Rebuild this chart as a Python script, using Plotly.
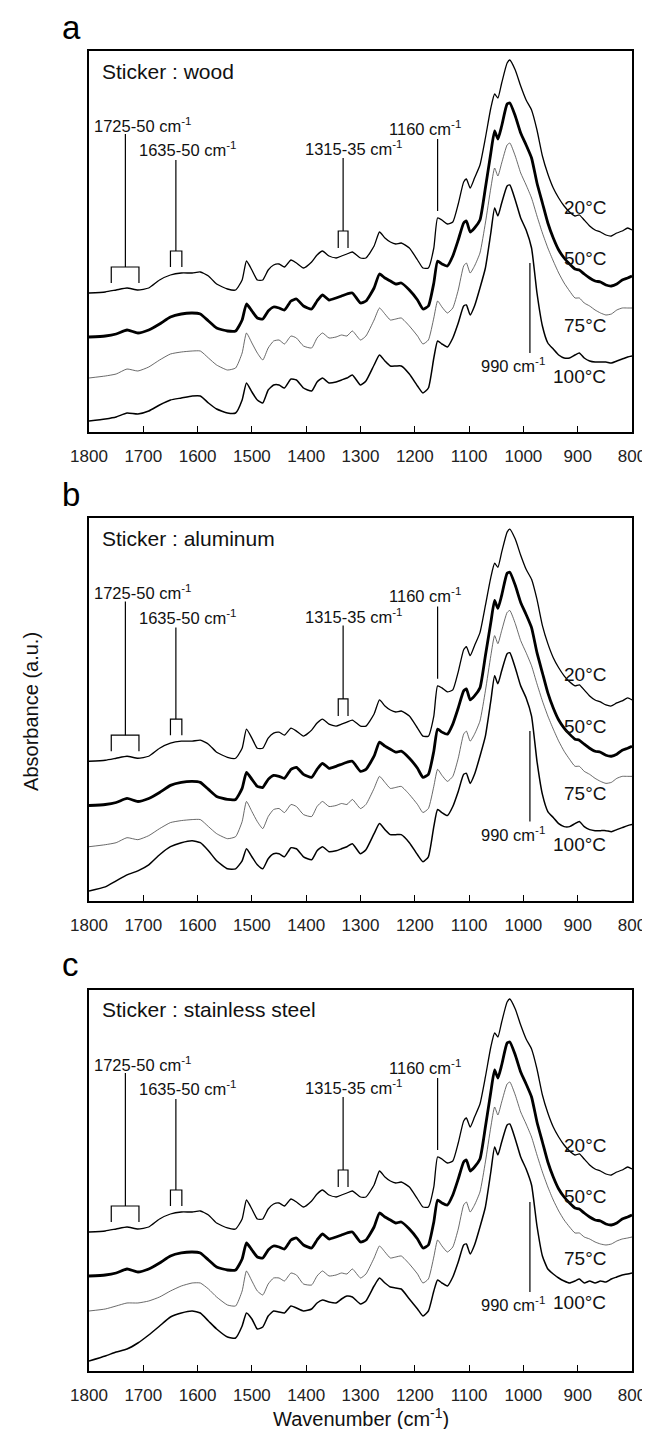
import plotly.graph_objects as go

# ---------------- data (absorbance, arbitrary units, offset spectra) ----------------
WN = [1800,1770,1750,1730,1710,1690,1670,1650,1630,1610,
      1595,1580,1565,1545,1530,1518,1510,1500,1490,1480,
      1470,1460,1450,1440,1428,1418,1405,1390,1380,1370,
      1358,1345,1335,1325,1315,1300,1290,1275,1265,1255,
      1245,1235,1225,1210,1195,1185,1175,1165,1158,1150,
      1140,1130,1120,1110,1105,1098,1090,1080,1070,1060,
      1053,1047,1040,1030,1025,1015,1005,995,985,975,
      965,955,945,935,925,915,905,897,888,878,
      868,858,848,838,828,818,808,800]

A20 = [139,140,142,144,142,144,152,157,159,159,160,156,148,143,142,152,171,162,152,152,
       162,167,168,165,172,169,164,170,177,181,176,174,176,178,180,174,174,186,200,194,
       190,188,189,184,172,164,164,184,214,212,208,210,228,250,253,244,254,267,294,324,
       338,334,349,369,372,362,346,332,322,302,276,258,244,234,226,220,216,217,212,206,
       202,200,197,196,199,201,204,202]
A50 = [95,96,98,102,99,102,108,115,118,119,118,111,104,101,101,112,128,121,114,113,
       121,125,124,122,131,133,126,123,131,137,132,134,136,138,139,129,131,144,158,154,
       151,148,149,142,132,123,126,149,171,168,166,176,192,209,211,200,204,212,244,279,
       301,293,306,328,329,316,299,287,274,249,229,209,194,182,174,168,163,162,158,154,
       151,150,147,146,148,152,154,156]
A75 = [54,56,58,63,61,65,72,78,80,81,81,74,67,62,64,79,99,89,79,72,
       84,91,92,88,96,94,86,84,94,99,94,95,97,96,101,92,96,112,124,118,
       112,113,114,106,96,88,92,114,131,125,119,124,142,166,169,159,166,179,209,244,
       264,256,269,287,289,276,259,247,234,216,199,184,171,159,149,141,134,134,129,126,
       122,119,117,118,122,124,124,124]
A100 = [11,13,15,19,18,21,27,32,34,36,36,29,23,19,19,32,49,40,32,29,
        42,47,47,44,53,52,44,41,50,54,49,50,52,54,57,47,51,67,77,71,
        66,66,66,58,46,39,44,74,91,88,85,94,109,126,127,117,126,144,164,199,
        224,216,229,246,247,232,214,202,184,139,106,89,83,77,74,74,77,79,74,71,
        70,70,70,69,71,73,75,76]

B20 = [139,140,142,144,142,144,152,157,159,159,160,156,148,143,142,152,171,162,152,152,
       162,167,168,165,172,169,164,170,177,181,176,174,176,178,180,174,174,186,200,194,
       190,188,189,184,172,164,164,184,214,212,208,210,228,250,253,244,254,267,294,322,
       336,332,347,367,370,360,344,330,320,300,274,256,242,232,224,218,214,215,210,204,
       200,198,195,194,197,199,202,200]
B50 = [95,96,98,102,99,102,108,115,118,119,118,111,104,101,101,112,128,121,114,113,
       121,125,124,122,131,133,126,123,131,137,132,134,136,138,139,129,131,144,158,154,
       151,148,149,142,132,123,126,149,171,168,166,176,192,209,211,200,204,212,244,277,
       299,291,304,326,327,314,297,285,272,247,227,207,192,180,172,166,161,160,156,152,
       149,148,145,144,146,150,152,154]
B75 = [54,56,58,63,61,65,72,78,80,81,81,74,67,62,64,79,99,89,79,72,
       84,91,92,88,96,94,86,84,94,99,94,95,97,96,101,92,96,112,124,118,
       112,113,114,106,96,88,92,114,131,125,119,124,142,166,169,159,166,179,209,244,
       264,256,269,287,289,276,259,247,234,216,199,184,171,159,149,141,134,134,129,126,
       122,119,117,118,122,124,124,124]
B100 = [10,14,20,26,30,36,46,54,58,60,58,50,40,32,32,40,52,44,36,32,
        42,47,47,44,53,52,44,41,50,54,49,50,52,54,57,47,51,67,77,71,
        66,66,66,58,46,39,44,74,91,88,85,94,109,126,127,117,126,144,164,199,
        224,216,229,246,247,232,214,202,184,139,106,89,83,77,74,74,77,79,74,71,
        70,70,70,69,71,73,75,76]
C20 = [139,140,142,144,142,144,152,157,159,159,160,156,148,143,142,152,171,162,152,152,
       162,167,168,165,172,169,164,170,177,181,176,174,176,178,180,174,174,186,200,194,
       190,188,189,184,172,164,164,184,214,212,208,210,228,250,253,244,254,267,294,324,
       338,334,349,369,372,362,346,332,322,302,276,258,244,234,226,220,216,217,212,206,
       202,200,197,196,199,201,204,202]
C50 = [95,96,98,102,99,102,108,115,118,119,118,111,104,101,101,112,128,121,114,113,
       121,125,124,122,131,133,126,123,131,137,132,134,136,138,139,129,131,144,158,154,
       151,148,149,142,132,123,126,149,171,168,166,176,192,209,211,200,204,212,244,279,
       301,293,306,328,329,316,299,287,274,249,229,209,194,182,174,168,163,162,158,154,
       151,150,147,146,148,152,154,156]
C75 = [60,62,65,68,68,70,74,80,85,88,88,82,74,66,65,80,100,90,80,76,
       87,93,93,90,98,96,87,86,95,100,95,96,98,97,102,93,97,113,125,119,
       113,114,115,107,97,88,92,114,131,125,119,124,142,166,169,159,166,179,209,244,
       264,256,269,287,289,276,259,247,234,216,199,184,171,160,151,144,138,138,134,132,
       129,127,126,127,130,132,133,134]
C100 = [10,15,19,22,28,36,45,54,58,60,58,50,42,34,33,45,58,52,42,44,
        55,60,59,58,65,63,60,62,68,71,69,68,72,75,74,67,70,85,93,88,
        84,83,82,72,62,55,60,80,91,88,85,94,109,126,127,117,126,144,164,199,
        224,216,229,246,247,232,214,202,186,145,115,102,97,93,90,88,90,92,88,90,
        88,90,89,92,94,96,97,98]

TEMPS = ["20°C", "50°C", "75°C", "100°C"]
TEMP_LABEL_Y = [[225, 174, 107, 56], [225, 174, 107, 56], [225, 174, 112, 68]]
XTICKS = [1800, 1700, 1600, 1500, 1400, 1300, 1200, 1100, 1000, 900, 800]

PANELS = [
    ("a", "Sticker : wood", [A20, A50, A75, A100]),
    ("b", "Sticker : aluminum", [B20, B50, B75, B100]),
    ("c", "Sticker : stainless steel", [C20, C50, C75, C100]),
]

# band markers: (label, label_x, label_y, stem_x, stem_top, bar_y, bar_from, bar_to, leg_y)
BANDS = [
    ("1725-50 cm<sup>-1</sup>", 1701, 307, 1733, 298, 165, 1759, 1708, 149),
    ("1635-50 cm<sup>-1</sup>", 1618, 283, 1640, 272, 181, 1650, 1629, 165),
    ("1315-35 cm<sup>-1</sup>", 1313, 284, 1332, 274, 201, 1341, 1323, 184),
]
LINE_1160 = ("1160 cm<sup>-1</sup>", 1182, 304, 1158, 293, 221)
LINE_990 = ("990 cm<sup>-1</sup>", 1020, 67, 988, 169, 79)

# ---------------- styling ----------------
FONT = "Liberation Sans, Arial, Helvetica, sans-serif"
LINE_STYLES = [dict(color="#000000", width=1.3),
               dict(color="#000000", width=2.8),
               dict(color="#444444", width=0.8),
               dict(color="#000000", width=1.5)]
DOMAINS = [[0.71136, 1.0], [0.35606, 0.64621], [0.0, 0.28864]]
LETTER_Y = [1.00227, 0.64848, 0.29242]

fig = go.Figure()
for p, (letter, title, curves) in enumerate(PANELS):
    xa = "x" if p == 0 else f"x{p+1}"
    ya = "y" if p == 0 else f"y{p+1}"
    for t, vals in enumerate(curves):
        fig.add_trace(go.Scatter(x=WN, y=vals, mode="lines", xaxis=xa, yaxis=ya,
                                 line=dict(shape="spline", smoothing=0.5, **LINE_STYLES[t]),
                                 showlegend=False, hoverinfo="skip", name=TEMPS[t]))
    axkey = "xaxis" if p == 0 else f"xaxis{p+1}"
    aykey = "yaxis" if p == 0 else f"yaxis{p+1}"
    fig.update_layout({
        axkey: dict(range=[1800, 800], domain=[0, 1], anchor=ya, tickvals=XTICKS,
                    ticks="inside", ticklen=6, tickwidth=1.2, tickcolor="#000",
                    showline=True, linecolor="#000", linewidth=1.5, mirror=True,
                    showgrid=False, zeroline=False, ticklabelstandoff=8,
                    tickfont=dict(family=FONT, size=17, color="#222")),
        aykey: dict(range=[0, 381], domain=DOMAINS[p], anchor=xa,
                    showticklabels=False, ticks="", showline=True, linecolor="#000",
                    linewidth=1.5, mirror=True, showgrid=False, zeroline=False),
    })
    fig.add_annotation(text=letter, xref="paper", yref="paper", x=-0.0525, y=LETTER_Y[p],
                       xanchor="left", yanchor="bottom", showarrow=False,
                       font=dict(family=FONT, size=33, color="#000"))
    fig.add_annotation(text=title, xref=xa, yref=ya, x=1780, y=361, xanchor="left",
                       yanchor="middle", showarrow=False,
                       font=dict(family=FONT, size=21, color="#111"))
    for t in range(4):
        fig.add_annotation(text=TEMPS[t], xref=xa, yref=ya, x=845, y=TEMP_LABEL_Y[p][t],
                           xanchor="right", yanchor="middle", showarrow=False,
                           font=dict(family=FONT, size=19, color="#111"))
    for (lab, lx, ly, sx, stop, by, b1, b2, legy) in BANDS:
        fig.add_annotation(text=lab, xref=xa, yref=ya, x=lx, y=ly, showarrow=False,
                           xanchor="center", yanchor="middle",
                           font=dict(family=FONT, size=16.5, color="#111"))
        fig.add_shape(type="line", xref=xa, yref=ya, x0=sx, x1=sx, y0=by, y1=stop,
                      line=dict(color="#000", width=1.2))
        fig.add_shape(type="path", xref=xa, yref=ya,
                      path=f"M {b1},{legy} L {b1},{by} L {b2},{by} L {b2},{legy}",
                      line=dict(color="#000", width=1.2))
    for (lab, lx, ly, sx, y0, y1) in [LINE_1160, LINE_990]:
        fig.add_annotation(text=lab, xref=xa, yref=ya, x=lx, y=ly, showarrow=False,
                           xanchor="center", yanchor="middle",
                           font=dict(family=FONT, size=16.5, color="#111"))
        fig.add_shape(type="line", xref=xa, yref=ya, x0=sx, x1=sx, y0=y0, y1=y1,
                      line=dict(color="#000", width=1.2))

fig.add_annotation(text="Absorbance (a.u.)", xref="paper", yref="paper", x=-0.107, y=0.5,
                   textangle=-90, showarrow=False, xanchor="center", yanchor="middle",
                   font=dict(family=FONT, size=20, color="#111"))
fig.add_annotation(text="Wavenumber (cm<sup>-1</sup>)", xref="paper", yref="paper", x=0.5,
                   y=-0.0356, showarrow=False, xanchor="center", yanchor="middle",
                   font=dict(family=FONT, size=20, color="#111"))

fig.update_layout(width=650, height=1429, margin=dict(l=81, r=17, t=43, b=66),
                  paper_bgcolor="white", plot_bgcolor="white")
fig.write_html("out.html")
